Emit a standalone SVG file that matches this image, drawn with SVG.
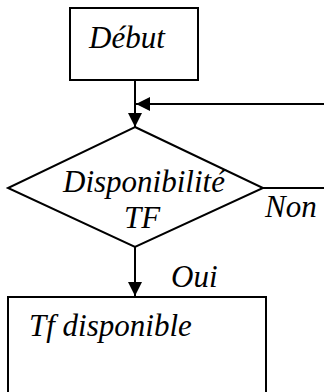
<svg xmlns="http://www.w3.org/2000/svg" width="324" height="392" viewBox="0 0 324 392">
  <style>
    .box { fill: #fff; stroke: #000; stroke-width: 2; }
    .line { fill: none; stroke: #000; stroke-width: 2; }
    .lbl { font-family: "Liberation Serif", "Times New Roman", serif; font-style: italic; font-size: 31px; fill: #000; }
  </style>
  <defs>
    <marker id="arrow" markerWidth="14" markerHeight="14" refX="14" refY="7" orient="auto" markerUnits="userSpaceOnUse">
      <path d="M0,0 L14,7 L0,14 Z" fill="#000"/>
    </marker>
  </defs>

  <g id="connectors">
    <line class="line" x1="135" y1="80" x2="135" y2="127" marker-end="url(#arrow)"/>
    <line class="line" x1="324" y1="104" x2="136" y2="104" marker-end="url(#arrow)"/>
    <line class="line" x1="263" y1="188" x2="324" y2="188"/>
    <line class="line" x1="135" y1="247" x2="135" y2="296" marker-end="url(#arrow)"/>
    <text class="lbl" x="265" y="217">Non</text>
    <text class="lbl" x="171" y="287">Oui</text>
  </g>

  <g id="debut">
    <rect class="box" x="70" y="8" width="128" height="72"/>
    <text class="lbl" x="89" y="48">Début</text>
  </g>

  <g id="disponibilite">
    <polygon class="box" points="135,127 263,188 135,247 8,188"/>
    <text class="lbl" x="144" y="192" text-anchor="middle">Disponibilité</text>
    <text class="lbl" x="142" y="228" text-anchor="middle">TF</text>
  </g>

  <g id="tf-disponible">
    <rect class="box" x="8" y="297" width="258" height="110"/>
    <text class="lbl" x="29" y="336">Tf disponible</text>
  </g>
</svg>
